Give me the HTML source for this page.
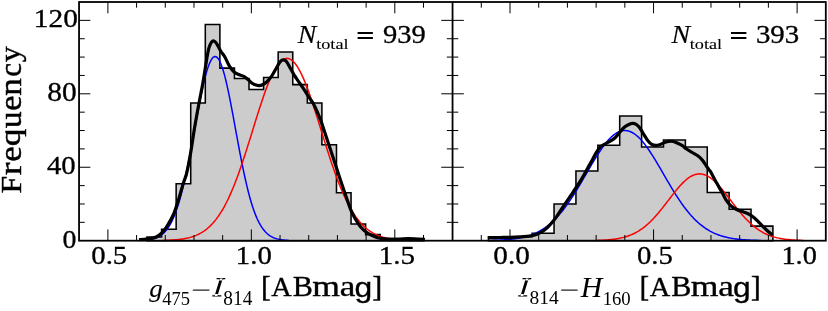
<!DOCTYPE html>
<html><head><meta charset="utf-8">
<style>
html,body{margin:0;padding:0;background:#fff;}
body{width:828px;height:311px;overflow:hidden;font-family:"Liberation Serif",serif;}
svg{display:block;will-change:transform;}
text{font-kerning:none;font-variant-ligatures:none;}
.ser{font-family:"Liberation Serif",serif;}
.san{font-family:"Liberation Sans",sans-serif;}
</style></head><body>
<svg width="828" height="311" viewBox="0 0 828 311">
<rect width="828" height="311" fill="#fff"/>
<!-- histograms -->
<path d="M147.0,240.7 L147.0,237.0 L161.57,237.0 L161.57,229.2 L176.15,229.2 L176.15,183.8 L190.72,183.8 L190.72,103.0 L205.3,103.0 L205.3,24.4 L219.88,24.4 L219.88,68.1 L234.45,68.1 L234.45,78.5 L249.02,78.5 L249.02,89.4 L263.6,89.4 L263.6,77.5 L278.17,77.5 L278.17,52.0 L292.75,52.0 L292.75,84.6 L307.32,84.6 L307.32,103.0 L321.9,103.0 L321.9,144.8 L336.48,144.8 L336.48,192.8 L351.05,192.8 L351.05,224.0 L365.62,224.0 L365.62,234.6 L380.2,234.6 L380.2,238.6 L394.77,238.6 L394.77,240.4 L409.35,240.4 L409.35,238.6 L423.93,238.6 L423.93,240.7 Z" fill="#cccccc" stroke="#000" stroke-width="1.55" stroke-linejoin="miter"/>
<path d="M488.4,240.7 L488.4,236.8 L510.28,236.8 L510.28,236.8 L532.17,236.8 L532.17,233.2 L554.05,233.2 L554.05,204.0 L575.94,204.0 L575.94,170.9 L597.83,170.9 L597.83,145.2 L619.71,145.2 L619.71,116.0 L641.6,116.0 L641.6,146.9 L663.48,146.9 L663.48,140.0 L685.37,140.0 L685.37,147.0 L707.25,147.0 L707.25,192.5 L729.13,192.5 L729.13,209.2 L751.02,209.2 L751.02,226.1 L772.9,226.1 L772.9,240.7 Z" fill="#cccccc" stroke="#000" stroke-width="1.55" stroke-linejoin="miter"/>
<!-- gaussians -->
<g fill="none" stroke-width="1.5" stroke-linejoin="round">
<path d="M141.05,240.45 L142.05,240.40 L143.05,240.34 L144.05,240.27 L145.05,240.19 L146.05,240.10 L147.05,239.99 L148.05,239.87 L149.05,239.73 L150.05,239.56 L151.05,239.37 L152.05,239.15 L153.05,238.90 L154.05,238.61 L155.05,238.28 L156.05,237.91 L157.05,237.49 L158.05,237.01 L159.05,236.47 L160.05,235.87 L161.05,235.19 L162.05,234.44 L163.05,233.59 L164.05,232.66 L165.05,231.62 L166.05,230.47 L167.05,229.20 L168.05,227.81 L169.05,226.29 L170.05,224.62 L171.05,222.80 L172.05,220.83 L173.05,218.69 L174.05,216.38 L175.05,213.89 L176.05,211.22 L177.05,208.36 L178.05,205.30 L179.05,202.05 L180.05,198.61 L181.05,194.96 L182.05,191.12 L183.05,187.09 L184.05,182.87 L185.05,178.46 L186.05,173.88 L187.05,169.14 L188.05,164.24 L189.05,159.20 L190.05,154.04 L191.05,148.78 L192.05,143.43 L193.05,138.01 L194.05,132.55 L195.05,127.08 L196.05,121.61 L197.05,116.19 L198.05,110.82 L199.05,105.55 L200.05,100.41 L201.05,95.42 L202.05,90.61 L203.05,86.01 L204.05,81.66 L205.05,77.58 L206.05,73.79 L207.05,70.32 L208.05,67.21 L209.05,64.45 L210.05,62.09 L211.05,60.12 L212.05,58.58 L213.05,57.46 L214.05,56.77 L215.05,56.53 L216.05,56.73 L217.05,57.37 L218.05,58.44 L219.05,59.95 L220.05,61.87 L221.05,64.20 L222.05,66.91 L223.05,70.00 L224.05,73.43 L225.05,77.18 L226.05,81.24 L227.05,85.57 L228.05,90.14 L229.05,94.93 L230.05,99.90 L231.05,105.03 L232.05,110.29 L233.05,115.65 L234.05,121.07 L235.05,126.53 L236.05,132.01 L237.05,137.47 L238.05,142.89 L239.05,148.25 L240.05,153.52 L241.05,158.69 L242.05,163.74 L243.05,168.66 L244.05,173.42 L245.05,178.01 L246.05,182.44 L247.05,186.68 L248.05,190.73 L249.05,194.59 L250.05,198.25 L251.05,201.72 L252.05,204.99 L253.05,208.06 L254.05,210.94 L255.05,213.63 L256.05,216.14 L257.05,218.47 L258.05,220.62 L259.05,222.61 L260.05,224.45 L261.05,226.13 L262.05,227.67 L263.05,229.07 L264.05,230.35 L265.05,231.51 L266.05,232.56 L267.05,233.51 L268.05,234.36 L269.05,235.12 L270.05,235.81 L271.05,236.42 L272.05,236.96 L273.05,237.44 L274.05,237.87 L275.05,238.25 L276.05,238.58 L277.05,238.87 L278.05,239.12 L279.05,239.35 L280.05,239.54 L281.05,239.71 L282.05,239.86 L283.05,239.98 L284.05,240.09 L285.05,240.18 L286.05,240.26 L287.05,240.33 L288.05,240.39 L289.05,240.44" stroke="#0000ff"/>
<path d="M162.05,240.47 L163.05,240.44 L164.05,240.41 L165.05,240.38 L166.05,240.35 L167.05,240.31 L168.05,240.27 L169.05,240.22 L170.05,240.17 L171.05,240.11 L172.05,240.05 L173.05,239.98 L174.05,239.91 L175.05,239.83 L176.05,239.75 L177.05,239.65 L178.05,239.55 L179.05,239.44 L180.05,239.32 L181.05,239.18 L182.05,239.04 L183.05,238.89 L184.05,238.72 L185.05,238.54 L186.05,238.34 L187.05,238.13 L188.05,237.90 L189.05,237.66 L190.05,237.39 L191.05,237.11 L192.05,236.80 L193.05,236.48 L194.05,236.13 L195.05,235.75 L196.05,235.35 L197.05,234.92 L198.05,234.46 L199.05,233.97 L200.05,233.45 L201.05,232.89 L202.05,232.30 L203.05,231.67 L204.05,231.01 L205.05,230.30 L206.05,229.55 L207.05,228.76 L208.05,227.92 L209.05,227.03 L210.05,226.10 L211.05,225.11 L212.05,224.08 L213.05,222.98 L214.05,221.84 L215.05,220.63 L216.05,219.37 L217.05,218.05 L218.05,216.67 L219.05,215.22 L220.05,213.71 L221.05,212.13 L222.05,210.49 L223.05,208.79 L224.05,207.01 L225.05,205.16 L226.05,203.25 L227.05,201.27 L228.05,199.21 L229.05,197.09 L230.05,194.90 L231.05,192.64 L232.05,190.31 L233.05,187.92 L234.05,185.45 L235.05,182.92 L236.05,180.33 L237.05,177.67 L238.05,174.96 L239.05,172.18 L240.05,169.35 L241.05,166.47 L242.05,163.53 L243.05,160.55 L244.05,157.53 L245.05,154.46 L246.05,151.36 L247.05,148.22 L248.05,145.06 L249.05,141.87 L250.05,138.66 L251.05,135.44 L252.05,132.21 L253.05,128.98 L254.05,125.75 L255.05,122.52 L256.05,119.31 L257.05,116.12 L258.05,112.95 L259.05,109.82 L260.05,106.72 L261.05,103.67 L262.05,100.67 L263.05,97.72 L264.05,94.84 L265.05,92.03 L266.05,89.29 L267.05,86.63 L268.05,84.06 L269.05,81.58 L270.05,79.21 L271.05,76.93 L272.05,74.77 L273.05,72.72 L274.05,70.79 L275.05,68.99 L276.05,67.31 L277.05,65.77 L278.05,64.37 L279.05,63.11 L280.05,61.99 L281.05,61.01 L282.05,60.19 L283.05,59.52 L284.05,59.00 L285.05,58.63 L286.05,58.42 L287.05,58.37 L288.05,58.47 L289.05,58.73 L290.05,59.14 L291.05,59.70 L292.05,60.42 L293.05,61.29 L294.05,62.31 L295.05,63.47 L296.05,64.78 L297.05,66.22 L298.05,67.80 L299.05,69.52 L300.05,71.36 L301.05,73.32 L302.05,75.41 L303.05,77.60 L304.05,79.91 L305.05,82.32 L306.05,84.82 L307.05,87.42 L308.05,90.10 L309.05,92.86 L310.05,95.70 L311.05,98.60 L312.05,101.56 L313.05,104.58 L314.05,107.65 L315.05,110.76 L316.05,113.90 L317.05,117.07 L318.05,120.27 L319.05,123.49 L320.05,126.71 L321.05,129.95 L322.05,133.18 L323.05,136.41 L324.05,139.62 L325.05,142.83 L326.05,146.01 L327.05,149.16 L328.05,152.29 L329.05,155.38 L330.05,158.44 L331.05,161.45 L332.05,164.42 L333.05,167.34 L334.05,170.21 L335.05,173.02 L336.05,175.78 L337.05,178.48 L338.05,181.11 L339.05,183.69 L340.05,186.20 L341.05,188.64 L342.05,191.02 L343.05,193.33 L344.05,195.57 L345.05,197.74 L346.05,199.84 L347.05,201.87 L348.05,203.83 L349.05,205.72 L350.05,207.55 L351.05,209.30 L352.05,210.99 L353.05,212.61 L354.05,214.17 L355.05,215.66 L356.05,217.09 L357.05,218.45 L358.05,219.76 L359.05,221.00 L360.05,222.19 L361.05,223.32 L362.05,224.39 L363.05,225.41 L364.05,226.38 L365.05,227.30 L366.05,228.17 L367.05,229.00 L368.05,229.78 L369.05,230.51 L370.05,231.21 L371.05,231.86 L372.05,232.48 L373.05,233.06 L374.05,233.61 L375.05,234.12 L376.05,234.60 L377.05,235.05 L378.05,235.47 L379.05,235.87 L380.05,236.23 L381.05,236.58 L382.05,236.90 L383.05,237.20 L384.05,237.47 L385.05,237.73 L386.05,237.97 L387.05,238.20 L388.05,238.40 L389.05,238.59 L390.05,238.77 L391.05,238.93 L392.05,239.08 L393.05,239.22 L394.05,239.35 L395.05,239.47 L396.05,239.58 L397.05,239.68 L398.05,239.77 L399.05,239.86 L400.05,239.93 L401.05,240.01 L402.05,240.07 L403.05,240.13 L404.05,240.18 L405.05,240.23 L406.05,240.28 L407.05,240.32 L408.05,240.36 L409.05,240.39 L410.05,240.42 L411.05,240.45 L412.05,240.47" stroke="#ff0000"/>
<path d="M489.55,240.46 L490.55,240.44 L491.55,240.42 L492.55,240.39 L493.55,240.36 L494.55,240.33 L495.55,240.30 L496.55,240.26 L497.55,240.22 L498.55,240.18 L499.55,240.13 L500.55,240.08 L501.55,240.03 L502.55,239.97 L503.55,239.91 L504.55,239.84 L505.55,239.77 L506.55,239.69 L507.55,239.61 L508.55,239.52 L509.55,239.42 L510.55,239.32 L511.55,239.21 L512.55,239.09 L513.55,238.97 L514.55,238.84 L515.55,238.69 L516.55,238.54 L517.55,238.38 L518.55,238.21 L519.55,238.02 L520.55,237.83 L521.55,237.62 L522.55,237.40 L523.55,237.17 L524.55,236.92 L525.55,236.66 L526.55,236.38 L527.55,236.09 L528.55,235.78 L529.55,235.45 L530.55,235.11 L531.55,234.75 L532.55,234.36 L533.55,233.96 L534.55,233.54 L535.55,233.09 L536.55,232.63 L537.55,232.14 L538.55,231.62 L539.55,231.09 L540.55,230.52 L541.55,229.94 L542.55,229.32 L543.55,228.68 L544.55,228.01 L545.55,227.31 L546.55,226.58 L547.55,225.83 L548.55,225.04 L549.55,224.23 L550.55,223.38 L551.55,222.50 L552.55,221.59 L553.55,220.65 L554.55,219.67 L555.55,218.66 L556.55,217.62 L557.55,216.55 L558.55,215.44 L559.55,214.30 L560.55,213.13 L561.55,211.92 L562.55,210.69 L563.55,209.42 L564.55,208.11 L565.55,206.78 L566.55,205.42 L567.55,204.02 L568.55,202.60 L569.55,201.15 L570.55,199.67 L571.55,198.16 L572.55,196.63 L573.55,195.07 L574.55,193.49 L575.55,191.88 L576.55,190.26 L577.55,188.62 L578.55,186.96 L579.55,185.28 L580.55,183.59 L581.55,181.89 L582.55,180.18 L583.55,178.46 L584.55,176.73 L585.55,175.00 L586.55,173.27 L587.55,171.54 L588.55,169.81 L589.55,168.09 L590.55,166.38 L591.55,164.68 L592.55,162.99 L593.55,161.31 L594.55,159.66 L595.55,158.02 L596.55,156.41 L597.55,154.83 L598.55,153.27 L599.55,151.75 L600.55,150.26 L601.55,148.81 L602.55,147.39 L603.55,146.02 L604.55,144.69 L605.55,143.41 L606.55,142.18 L607.55,141.00 L608.55,139.87 L609.55,138.80 L610.55,137.79 L611.55,136.83 L612.55,135.94 L613.55,135.11 L614.55,134.34 L615.55,133.65 L616.55,133.02 L617.55,132.45 L618.55,131.96 L619.55,131.54 L620.55,131.19 L621.55,130.92 L622.55,130.72 L623.55,130.59 L624.55,130.53 L625.55,130.55 L626.55,130.64 L627.55,130.81 L628.55,131.05 L629.55,131.36 L630.55,131.74 L631.55,132.20 L632.55,132.73 L633.55,133.32 L634.55,133.99 L635.55,134.72 L636.55,135.52 L637.55,136.38 L638.55,137.30 L639.55,138.28 L640.55,139.33 L641.55,140.43 L642.55,141.58 L643.55,142.79 L644.55,144.05 L645.55,145.35 L646.55,146.70 L647.55,148.09 L648.55,149.53 L649.55,151.00 L650.55,152.51 L651.55,154.05 L652.55,155.62 L653.55,157.22 L654.55,158.84 L655.55,160.48 L656.55,162.15 L657.55,163.83 L658.55,165.53 L659.55,167.23 L660.55,168.95 L661.55,170.68 L662.55,172.41 L663.55,174.14 L664.55,175.87 L665.55,177.60 L666.55,179.32 L667.55,181.03 L668.55,182.74 L669.55,184.44 L670.55,186.12 L671.55,187.79 L672.55,189.44 L673.55,191.07 L674.55,192.69 L675.55,194.28 L676.55,195.85 L677.55,197.39 L678.55,198.92 L679.55,200.41 L680.55,201.88 L681.55,203.31 L682.55,204.72 L683.55,206.10 L684.55,207.45 L685.55,208.77 L686.55,210.06 L687.55,211.31 L688.55,212.53 L689.55,213.72 L690.55,214.88 L691.55,216.00 L692.55,217.09 L693.55,218.15 L694.55,219.17 L695.55,220.16 L696.55,221.12 L697.55,222.05 L698.55,222.94 L699.55,223.81 L700.55,224.64 L701.55,225.44 L702.55,226.21 L703.55,226.95 L704.55,227.66 L705.55,228.35 L706.55,229.00 L707.55,229.63 L708.55,230.23 L709.55,230.81 L710.55,231.36 L711.55,231.88 L712.55,232.39 L713.55,232.86 L714.55,233.32 L715.55,233.75 L716.55,234.17 L717.55,234.56 L718.55,234.93 L719.55,235.28 L720.55,235.62 L721.55,235.94 L722.55,236.24 L723.55,236.52 L724.55,236.79 L725.55,237.05 L726.55,237.29 L727.55,237.51 L728.55,237.73 L729.55,237.93 L730.55,238.12 L731.55,238.29 L732.55,238.46 L733.55,238.62 L734.55,238.77 L735.55,238.90 L736.55,239.03 L737.55,239.15 L738.55,239.27 L739.55,239.37 L740.55,239.47 L741.55,239.56 L742.55,239.65 L743.55,239.73 L744.55,239.80 L745.55,239.87 L746.55,239.94 L747.55,240.00 L748.55,240.05 L749.55,240.11 L750.55,240.15 L751.55,240.20 L752.55,240.24 L753.55,240.28 L754.55,240.31 L755.55,240.34 L756.55,240.37 L757.55,240.40 L758.55,240.43 L759.55,240.45 L760.55,240.47" stroke="#0000ff"/>
<path d="M595.55,240.46 L596.55,240.43 L597.55,240.40 L598.55,240.37 L599.55,240.33 L600.55,240.29 L601.55,240.25 L602.55,240.20 L603.55,240.14 L604.55,240.09 L605.55,240.02 L606.55,239.95 L607.55,239.88 L608.55,239.80 L609.55,239.71 L610.55,239.61 L611.55,239.51 L612.55,239.39 L613.55,239.27 L614.55,239.14 L615.55,238.99 L616.55,238.84 L617.55,238.67 L618.55,238.49 L619.55,238.30 L620.55,238.09 L621.55,237.87 L622.55,237.63 L623.55,237.38 L624.55,237.11 L625.55,236.82 L626.55,236.51 L627.55,236.18 L628.55,235.83 L629.55,235.46 L630.55,235.07 L631.55,234.65 L632.55,234.21 L633.55,233.75 L634.55,233.26 L635.55,232.74 L636.55,232.20 L637.55,231.63 L638.55,231.03 L639.55,230.40 L640.55,229.74 L641.55,229.05 L642.55,228.34 L643.55,227.59 L644.55,226.81 L645.55,226.00 L646.55,225.16 L647.55,224.29 L648.55,223.38 L649.55,222.45 L650.55,221.49 L651.55,220.49 L652.55,219.47 L653.55,218.42 L654.55,217.34 L655.55,216.23 L656.55,215.10 L657.55,213.95 L658.55,212.77 L659.55,211.57 L660.55,210.35 L661.55,209.11 L662.55,207.85 L663.55,206.58 L664.55,205.30 L665.55,204.01 L666.55,202.71 L667.55,201.40 L668.55,200.10 L669.55,198.79 L670.55,197.48 L671.55,196.19 L672.55,194.90 L673.55,193.62 L674.55,192.35 L675.55,191.11 L676.55,189.88 L677.55,188.68 L678.55,187.51 L679.55,186.36 L680.55,185.25 L681.55,184.18 L682.55,183.14 L683.55,182.15 L684.55,181.20 L685.55,180.30 L686.55,179.45 L687.55,178.65 L688.55,177.90 L689.55,177.22 L690.55,176.59 L691.55,176.02 L692.55,175.52 L693.55,175.08 L694.55,174.71 L695.55,174.40 L696.55,174.16 L697.55,173.99 L698.55,173.89 L699.55,173.86 L700.55,173.90 L701.55,174.01 L702.55,174.19 L703.55,174.43 L704.55,174.74 L705.55,175.12 L706.55,175.57 L707.55,176.08 L708.55,176.65 L709.55,177.28 L710.55,177.98 L711.55,178.73 L712.55,179.53 L713.55,180.39 L714.55,181.29 L715.55,182.25 L716.55,183.24 L717.55,184.28 L718.55,185.36 L719.55,186.48 L720.55,187.62 L721.55,188.80 L722.55,190.00 L723.55,191.23 L724.55,192.48 L725.55,193.74 L726.55,195.02 L727.55,196.32 L728.55,197.61 L729.55,198.92 L730.55,200.23 L731.55,201.53 L732.55,202.84 L733.55,204.14 L734.55,205.43 L735.55,206.71 L736.55,207.98 L737.55,209.23 L738.55,210.47 L739.55,211.69 L740.55,212.89 L741.55,214.06 L742.55,215.22 L743.55,216.35 L744.55,217.45 L745.55,218.53 L746.55,219.57 L747.55,220.59 L748.55,221.58 L749.55,222.55 L750.55,223.48 L751.55,224.38 L752.55,225.24 L753.55,226.08 L754.55,226.89 L755.55,227.66 L756.55,228.41 L757.55,229.12 L758.55,229.81 L759.55,230.46 L760.55,231.09 L761.55,231.68 L762.55,232.25 L763.55,232.79 L764.55,233.31 L765.55,233.79 L766.55,234.26 L767.55,234.69 L768.55,235.11 L769.55,235.50 L770.55,235.87 L771.55,236.21 L772.55,236.54 L773.55,236.85 L774.55,237.13 L775.55,237.40 L776.55,237.66 L777.55,237.89 L778.55,238.11 L779.55,238.32 L780.55,238.51 L781.55,238.69 L782.55,238.85 L783.55,239.01 L784.55,239.15 L785.55,239.28 L786.55,239.40 L787.55,239.52 L788.55,239.62 L789.55,239.72 L790.55,239.81 L791.55,239.89 L792.55,239.96 L793.55,240.03 L794.55,240.09 L795.55,240.15 L796.55,240.20 L797.55,240.25 L798.55,240.29 L799.55,240.33 L800.55,240.37 L801.55,240.40 L802.55,240.43 L803.55,240.46" stroke="#ff0000"/>
</g>
<!-- KDE -->
<g fill="none" stroke="#000" stroke-width="3.2" stroke-linejoin="round" stroke-linecap="butt">
<path d="M139.00,239.60 C140.17,239.53 144.00,239.38 146.00,239.20 C148.00,239.02 149.28,238.87 151.00,238.50 C152.72,238.13 154.50,237.92 156.30,237.00 C158.10,236.08 160.25,234.43 161.80,233.00 C163.35,231.57 164.23,230.40 165.60,228.40 C166.97,226.40 168.60,223.53 170.00,221.00 C171.40,218.47 172.65,216.53 174.00,213.20 C175.35,209.87 176.53,206.03 178.10,201.00 C179.67,195.97 182.05,187.33 183.40,183.00 C184.75,178.67 185.33,178.17 186.20,175.00 C187.07,171.83 187.75,168.33 188.60,164.00 C189.45,159.67 190.37,154.67 191.30,149.00 C192.23,143.33 193.08,136.75 194.20,130.00 C195.32,123.25 196.62,116.00 198.00,108.50 C199.38,101.00 201.55,90.08 202.50,85.00 C203.45,79.92 202.80,83.42 203.70,78.00 C204.60,72.58 206.80,58.12 207.90,52.50 C209.00,46.88 209.48,46.22 210.30,44.30 C211.12,42.38 211.93,41.37 212.80,41.00 C213.67,40.63 214.63,41.27 215.50,42.10 C216.37,42.93 217.08,44.43 218.00,46.00 C218.92,47.57 219.83,49.63 221.00,51.50 C222.17,53.37 223.62,54.80 225.00,57.20 C226.38,59.60 227.85,63.48 229.30,65.90 C230.75,68.32 232.25,70.30 233.70,71.70 C235.15,73.10 236.32,73.53 238.00,74.30 C239.68,75.07 242.12,75.42 243.80,76.30 C245.48,77.18 246.65,78.40 248.10,79.60 C249.55,80.80 251.17,82.58 252.50,83.50 C253.83,84.42 255.02,84.75 256.10,85.10 C257.18,85.45 257.92,85.67 259.00,85.60 C260.08,85.53 261.28,85.33 262.60,84.70 C263.92,84.07 265.45,83.13 266.90,81.80 C268.35,80.47 269.85,78.75 271.30,76.70 C272.75,74.65 274.28,71.75 275.60,69.50 C276.92,67.25 278.22,64.68 279.20,63.20 C280.18,61.72 280.83,61.15 281.50,60.60 C282.17,60.05 282.62,59.93 283.20,59.90 C283.78,59.87 284.42,60.07 285.00,60.40 C285.58,60.73 285.82,60.62 286.70,61.90 C287.58,63.18 289.10,65.98 290.30,68.10 C291.50,70.22 292.57,72.43 293.90,74.60 C295.23,76.77 296.73,78.80 298.30,81.10 C299.87,83.40 301.43,85.58 303.30,88.40 C305.17,91.22 307.75,95.32 309.50,98.00 C311.25,100.68 312.37,101.85 313.80,104.50 C315.23,107.15 316.90,111.13 318.10,113.90 C319.30,116.67 320.03,118.45 321.00,121.10 C321.97,123.75 322.60,125.90 323.90,129.80 C325.20,133.70 327.37,140.17 328.80,144.50 C330.23,148.83 331.18,151.82 332.50,155.80 C333.82,159.78 335.17,163.73 336.70,168.40 C338.23,173.07 339.93,178.53 341.70,183.80 C343.47,189.07 345.77,195.62 347.30,200.00 C348.83,204.38 349.58,206.97 350.90,210.10 C352.22,213.23 353.63,216.08 355.20,218.80 C356.77,221.52 358.48,224.20 360.30,226.40 C362.12,228.60 364.05,230.45 366.10,232.00 C368.15,233.55 370.32,234.65 372.60,235.70 C374.88,236.75 376.90,237.70 379.80,238.30 C382.70,238.90 386.63,239.18 390.00,239.30 C393.37,239.42 397.00,239.10 400.00,239.00 C403.00,238.90 405.33,238.68 408.00,238.70 C410.67,238.72 413.20,238.95 416.00,239.10 C418.80,239.25 423.33,239.52 424.80,239.60"/>
<path d="M488.20,237.70 C490.17,237.67 496.37,237.57 500.00,237.50 C503.63,237.43 506.67,237.40 510.00,237.30 C513.33,237.20 517.17,237.05 520.00,236.90 C522.83,236.75 524.85,236.63 527.00,236.40 C529.15,236.17 531.23,235.87 532.90,235.50 C534.57,235.13 535.55,234.80 537.00,234.20 C538.45,233.60 540.27,232.68 541.60,231.90 C542.93,231.12 543.80,230.47 545.00,229.50 C546.20,228.53 547.32,227.63 548.80,226.10 C550.28,224.57 552.22,222.47 553.90,220.30 C555.58,218.13 557.10,215.75 558.90,213.10 C560.70,210.45 562.65,207.42 564.70,204.40 C566.75,201.38 569.93,196.85 571.20,195.00 C572.47,193.15 570.55,195.98 572.30,193.30 C574.05,190.62 578.93,183.47 581.70,178.90 C584.47,174.33 587.10,169.13 588.90,165.90 C590.70,162.67 591.35,161.58 592.50,159.50 C593.65,157.42 594.63,155.33 595.80,153.40 C596.97,151.47 598.17,149.35 599.50,147.90 C600.83,146.45 602.12,145.77 603.80,144.70 C605.48,143.63 607.67,142.70 609.60,141.50 C611.53,140.30 613.72,139.02 615.40,137.50 C617.08,135.98 618.22,134.10 619.70,132.40 C621.18,130.70 622.78,128.62 624.30,127.30 C625.82,125.98 627.42,125.17 628.80,124.50 C630.18,123.83 631.37,123.33 632.60,123.30 C633.83,123.27 635.08,123.63 636.20,124.30 C637.32,124.97 638.08,125.70 639.30,127.30 C640.52,128.90 642.10,131.72 643.50,133.90 C644.90,136.08 646.33,138.65 647.70,140.40 C649.07,142.15 650.32,143.57 651.70,144.40 C653.08,145.23 654.55,145.40 656.00,145.40 C657.45,145.40 658.95,144.88 660.40,144.40 C661.85,143.92 663.27,143.00 664.70,142.50 C666.13,142.00 667.55,141.57 669.00,141.40 C670.45,141.23 671.95,141.18 673.40,141.50 C674.85,141.82 676.27,142.65 677.70,143.30 C679.13,143.95 680.52,144.45 682.00,145.40 C683.48,146.35 684.88,147.82 686.60,149.00 C688.32,150.18 690.38,151.32 692.30,152.50 C694.22,153.68 696.40,154.78 698.10,156.10 C699.80,157.42 701.17,158.83 702.50,160.40 C703.83,161.97 705.02,163.93 706.10,165.50 C707.18,167.07 708.20,168.67 709.00,169.80 C709.80,170.93 709.62,170.08 710.90,172.30 C712.18,174.52 714.77,179.60 716.70,183.10 C718.63,186.60 720.95,190.52 722.50,193.30 C724.05,196.08 724.62,197.72 726.00,199.80 C727.38,201.88 729.03,204.18 730.80,205.80 C732.57,207.42 734.68,208.53 736.60,209.50 C738.52,210.47 740.38,210.88 742.30,211.60 C744.22,212.32 746.17,212.83 748.10,213.80 C750.03,214.77 751.97,215.83 753.90,217.40 C755.83,218.97 757.77,221.27 759.70,223.20 C761.63,225.13 763.40,227.03 765.50,229.00 C767.60,230.97 771.17,234.00 772.30,235.00"/>
</g>
<!-- ticks -->
<path d="M107.90,240.7 v-11.3 M107.90,2.0 v11.3 M136.59,240.7 v-5.7 M136.59,2.0 v5.7 M165.28,240.7 v-5.7 M165.28,2.0 v5.7 M193.97,240.7 v-5.7 M193.97,2.0 v5.7 M222.66,240.7 v-5.7 M222.66,2.0 v5.7 M251.35,240.7 v-11.3 M251.35,2.0 v11.3 M280.04,240.7 v-5.7 M280.04,2.0 v5.7 M308.73,240.7 v-5.7 M308.73,2.0 v5.7 M337.42,240.7 v-5.7 M337.42,2.0 v5.7 M366.11,240.7 v-5.7 M366.11,2.0 v5.7 M394.80,240.7 v-11.3 M394.80,2.0 v11.3 M423.49,240.7 v-5.7 M423.49,2.0 v5.7 M481.29,240.7 v-5.7 M481.29,2.0 v5.7 M510.00,240.7 v-11.3 M510.00,2.0 v11.3 M538.71,240.7 v-5.7 M538.71,2.0 v5.7 M567.42,240.7 v-5.7 M567.42,2.0 v5.7 M596.13,240.7 v-5.7 M596.13,2.0 v5.7 M624.84,240.7 v-5.7 M624.84,2.0 v5.7 M653.55,240.7 v-11.3 M653.55,2.0 v11.3 M682.26,240.7 v-5.7 M682.26,2.0 v5.7 M710.97,240.7 v-5.7 M710.97,2.0 v5.7 M739.68,240.7 v-5.7 M739.68,2.0 v5.7 M768.39,240.7 v-5.7 M768.39,2.0 v5.7 M797.10,240.7 v-11.3 M797.10,2.0 v11.3 M79.05,222.34 h5.7 M446.85,222.34 h11.4 M825.8,222.34 h-5.7 M79.05,203.98 h5.7 M446.85,203.98 h11.4 M825.8,203.98 h-5.7 M79.05,185.61 h5.7 M446.85,185.61 h11.4 M825.8,185.61 h-5.7 M79.05,167.25 h11.3 M441.25,167.25 h22.6 M825.8,167.25 h-11.3 M79.05,148.89 h5.7 M446.85,148.89 h11.4 M825.8,148.89 h-5.7 M79.05,130.53 h5.7 M446.85,130.53 h11.4 M825.8,130.53 h-5.7 M79.05,112.17 h5.7 M446.85,112.17 h11.4 M825.8,112.17 h-5.7 M79.05,93.80 h11.3 M441.25,93.80 h22.6 M825.8,93.80 h-11.3 M79.05,75.44 h5.7 M446.85,75.44 h11.4 M825.8,75.44 h-5.7 M79.05,57.08 h5.7 M446.85,57.08 h11.4 M825.8,57.08 h-5.7 M79.05,38.72 h5.7 M446.85,38.72 h11.4 M825.8,38.72 h-5.7 M79.05,20.36 h11.3 M441.25,20.36 h22.6 M825.8,20.36 h-11.3 " stroke="#000" stroke-width="1.0" fill="none"/>
<!-- frame -->
<g fill="none" stroke="#000" stroke-width="1.8">
<rect x="79.05" y="2.0" width="746.75" height="238.70"/>
<path d="M452.55,2.0 V240.7"/>
</g>
<text class="ser" font-size="100" transform="translate(33.82,26.75) scale(0.2933,0.2579)" stroke="#000" stroke-width="1.2">120</text>
<text class="ser" font-size="100" transform="translate(47.28,100.54) scale(0.2944,0.2638)" stroke="#000" stroke-width="1.2">80</text>
<text class="ser" font-size="100" transform="translate(46.94,174.35) scale(0.2876,0.2608)" stroke="#000" stroke-width="1.2">40</text>
<text class="ser" font-size="100" transform="translate(62.44,247.75) scale(0.2784,0.2593)" stroke="#000" stroke-width="1.2">0</text>
<text class="ser" font-size="100" transform="translate(91.31,263.74) scale(0.2873,0.2532)" stroke="#000" stroke-width="1.2">0.5</text>
<text class="ser" font-size="100" transform="translate(235.87,263.74) scale(0.2874,0.2532)" stroke="#000" stroke-width="1.2">1.0</text>
<text class="ser" font-size="100" transform="translate(378.65,263.74) scale(0.2903,0.2551)" stroke="#000" stroke-width="1.2">1.5</text>
<text class="ser" font-size="100" transform="translate(493.29,263.74) scale(0.2922,0.2532)" stroke="#000" stroke-width="1.2">0.0</text>
<text class="ser" font-size="100" transform="translate(636.91,263.74) scale(0.2873,0.2532)" stroke="#000" stroke-width="1.2">0.5</text>
<text class="ser" font-size="100" transform="translate(781.41,263.74) scale(0.2838,0.2532)" stroke="#000" stroke-width="1.2">1.0</text>
<text class="ser" font-size="100" transform="rotate(-90) translate(-193.41,20.60) scale(0.3155,0.2902)" stroke="#000" stroke-width="1.5">F</text>
<text class="ser" font-size="100" transform="rotate(-90) translate(-175.26,20.60) scale(0.3813,0.3056)" stroke="#000" stroke-width="1.5">r</text>
<text class="ser" font-size="100" transform="rotate(-90) translate(-161.76,20.60) scale(0.3485,0.3119)" stroke="#000" stroke-width="1.5">e</text>
<text class="ser" font-size="100" transform="rotate(-90) translate(-146.17,20.32) scale(0.3522,0.2998)" stroke="#000" stroke-width="1.5">q</text>
<text class="ser" font-size="100" transform="rotate(-90) translate(-128.35,20.59) scale(0.3385,0.3136)" stroke="#000" stroke-width="1.5">u</text>
<text class="ser" font-size="100" transform="rotate(-90) translate(-110.84,20.60) scale(0.3431,0.3119)" stroke="#000" stroke-width="1.5">e</text>
<text class="ser" font-size="100" transform="rotate(-90) translate(-95.70,20.60) scale(0.3507,0.3077)" stroke="#000" stroke-width="1.5">n</text>
<text class="ser" font-size="100" transform="rotate(-90) translate(-76.78,20.60) scale(0.3093,0.3119)" stroke="#000" stroke-width="1.5">c</text>
<text class="ser" font-size="100" transform="rotate(-90) translate(-62.29,20.24) scale(0.3203,0.3038)" stroke="#000" stroke-width="1.5">y</text>
<text class="ser" font-size="100" font-style="italic" transform="translate(149.29,297.42) scale(0.2701,0.2575)" stroke="#000" stroke-width="0.3">g</text>
<text class="ser" font-size="100" transform="translate(162.24,304.82) scale(0.1852,0.1886)" stroke="#000" stroke-width="0">475</text>
<path d="M192.8,290.1 H209.4" stroke="#000" stroke-width="1.1"/>
<path d="M214.55,296.00 L217.45,296.00 L222.75,278.60 L219.85,278.60 Z M216.60,277.95 H225.30 V279.30 H223.60 L222.10,280.50 H219.60 L219.00,279.30 H216.60 Z M212.30,295.25 H214.00 L215.30,294.10 H217.80 L218.40,295.25 H221.30 V296.60 H212.30 Z" fill="#000"/>
<text class="ser" font-size="100" transform="translate(223.37,304.90) scale(0.1929,0.2045)" stroke="#000" stroke-width="0">814</text>
<text class="ser" font-size="100" transform="translate(261.33,295.90) scale(0.2785,0.2912)" stroke="#000" stroke-width="2.0">[</text>
<text class="ser" font-size="100" transform="translate(271.22,296.30) scale(0.2837,0.2833)" stroke="#000" stroke-width="1.2">A</text>
<text class="ser" font-size="100" transform="translate(292.73,296.22) scale(0.3020,0.2843)" stroke="#000" stroke-width="1.2">B</text>
<text class="ser" font-size="100" transform="translate(312.35,296.30) scale(0.3562,0.2992)" stroke="#000" stroke-width="1.2">m</text>
<text class="ser" font-size="100" transform="translate(339.86,296.20) scale(0.3519,0.3027)" stroke="#000" stroke-width="1.2">a</text>
<text class="san" font-size="100" transform="translate(354.46,297.00) scale(0.3180,0.2795)" stroke="#000" stroke-width="1.2">g</text>
<text class="ser" font-size="100" transform="translate(372.56,295.90) scale(0.2874,0.2912)" stroke="#000" stroke-width="2.0">]</text>
<path d="M520.45,296.00 L523.35,296.00 L528.65,278.60 L525.75,278.60 Z M522.50,277.95 H531.20 V279.30 H529.50 L528.00,280.50 H525.50 L524.90,279.30 H522.50 Z M518.20,295.25 H519.90 L521.20,294.10 H523.70 L524.30,295.25 H527.20 V296.60 H518.20 Z" fill="#000"/>
<text class="ser" font-size="100" transform="translate(529.56,304.31) scale(0.1950,0.1956)" stroke="#000" stroke-width="0">814</text>
<path d="M561.2,290.1 H577.6" stroke="#000" stroke-width="1.1"/>
<text class="ser" font-size="100" font-style="italic" transform="translate(580.82,297.30) scale(0.2983,0.2841)" stroke="#000" stroke-width="0">H</text>
<text class="ser" font-size="100" transform="translate(602.66,304.51) scale(0.1870,0.1986)" stroke="#000" stroke-width="0">160</text>
<text class="ser" font-size="100" transform="translate(639.78,295.90) scale(0.2785,0.2912)" stroke="#000" stroke-width="2.0">[</text>
<text class="ser" font-size="100" transform="translate(649.67,296.30) scale(0.2837,0.2833)" stroke="#000" stroke-width="1.2">A</text>
<text class="ser" font-size="100" transform="translate(671.18,296.22) scale(0.3020,0.2843)" stroke="#000" stroke-width="1.2">B</text>
<text class="ser" font-size="100" transform="translate(690.80,296.30) scale(0.3562,0.2992)" stroke="#000" stroke-width="1.2">m</text>
<text class="ser" font-size="100" transform="translate(718.31,296.20) scale(0.3519,0.3027)" stroke="#000" stroke-width="1.2">a</text>
<text class="san" font-size="100" transform="translate(732.91,297.00) scale(0.3180,0.2795)" stroke="#000" stroke-width="1.2">g</text>
<text class="ser" font-size="100" transform="translate(751.01,295.90) scale(0.2874,0.2912)" stroke="#000" stroke-width="2.0">]</text>
<text class="ser" font-size="100" font-style="italic" transform="translate(297.80,43.00) scale(0.2789,0.2459)" stroke="#000" stroke-width="0.6">N</text>
<text class="ser" font-size="100" transform="translate(316.22,49.26) scale(0.1820,0.1478)" stroke="#000" stroke-width="0.6">total</text>
<path d="M357.6,33.1 H372.9 M357.6,38.1 H372.9" stroke="#000" stroke-width="2"/>
<text class="ser" font-size="100" transform="translate(382.98,43.25) scale(0.2853,0.2530)" stroke="#000" stroke-width="1.2">939</text>
<text class="ser" font-size="100" font-style="italic" transform="translate(671.40,43.00) scale(0.2789,0.2459)" stroke="#000" stroke-width="0.6">N</text>
<text class="ser" font-size="100" transform="translate(689.82,49.26) scale(0.1820,0.1478)" stroke="#000" stroke-width="0.6">total</text>
<path d="M731.0,33.1 H746.4 M731.0,38.1 H746.4" stroke="#000" stroke-width="2"/>
<text class="ser" font-size="100" transform="translate(755.92,43.25) scale(0.2887,0.2530)" stroke="#000" stroke-width="1.2">393</text>

</svg>
</body></html>
